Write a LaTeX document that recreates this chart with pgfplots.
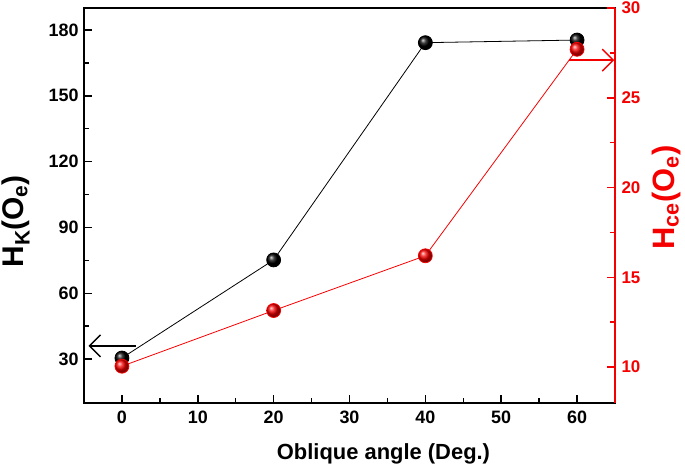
\documentclass[border=0pt]{standalone}
\usepackage{pgfplots}
\pgfplotsset{compat=1.18}
\usepackage{fontspec}
\setmainfont{Liberation Sans}
\usetikzlibrary{arrows.meta}
\definecolor{myred}{RGB}{245,0,0}
\begin{document}
\begin{tikzpicture}
\useasboundingbox (-84bp,-69bp) rectangle (601bp,403bp);
\begin{axis}[
  at={(0,0)}, anchor=south west,
  scale only axis, width=531bp, height=395bp,
  xmin=-5, xmax=65, ymin=10, ymax=190,
  axis line style={line width=1.5pt},
  tick style={line width=1.5pt, black},
  tick align=inside,
  major tick length=8bp, minor tick length=5bp,
  xtick={0,10,...,60}, minor x tick num=1,
  ytick={30,60,...,180}, minor y tick num=1,
  tick pos=left,
  /pgf/number format/assume math mode=true,
  tick label style={font=\bfseries\fontsize{18}{18}\selectfont},
  xticklabel style={yshift=-4bp},
  yticklabel style={xshift=-2bp},
  every axis x label/.style={at={(axis description cs:0.564,0)}, yshift=-51bp, anchor=center},
  every axis y label/.style={at={(axis description cs:0,0.46)}, xshift=-68bp, rotate=90, anchor=center},
  xlabel={\bfseries\fontsize{22}{24}\selectfont Oblique angle (Deg.)},
  ylabel={\bfseries\fontsize{30}{32}\selectfont H\textsubscript{K}(O\textsubscript{e})},
  clip=false,
]
\addplot[black, line width=0.8pt, mark=ball, mark size=7pt, mark options={ball color=black}]
  coordinates {(0,30.5) (20,75.2) (40,174.2) (60,175.4)};
\addplot[black, line width=1.4pt, -{Straight Barb[length=11bp,width=22bp]}]
  coordinates {(1.85,36) (-4.4,36)};
\end{axis}
\begin{axis}[
  at={(0,0)}, anchor=south west,
  scale only axis, width=531bp, height=395bp,
  xmin=-5, xmax=65, ymin=8, ymax=30,
  axis x line=none, axis y line*=right,
  y axis line style={myred, line width=1.5pt},
  tick style={line width=1.5pt, myred},
  tick align=inside,
  major tick length=8bp, minor tick length=5bp,
  ytick={10,15,...,30}, minor y tick num=1,
  /pgf/number format/assume math mode=true,
  yticklabel style={font=\bfseries\fontsize{17}{17}\selectfont, myred, xshift=3bp},
  every axis y label/.style={at={(axis description cs:1,0.52)}, xshift=52bp, rotate=90, anchor=center},
  ylabel={\color{myred}\bfseries\fontsize{31}{33}\selectfont H\textsubscript{ce}(O\textsubscript{e})},
  clip=false,
]
\addplot[myred, line width=0.8pt, mark=ball, mark size=7pt, mark options={ball color=myred}]
  coordinates {(0,10.05) (20,13.15) (40,16.2) (60,27.7)};
\addplot[myred, line width=1.4pt, -{Straight Barb[length=11bp,width=22bp]}]
  coordinates {(59.0,27.1) (64.9,27.1)};
\end{axis}
\end{tikzpicture}
\end{document}
